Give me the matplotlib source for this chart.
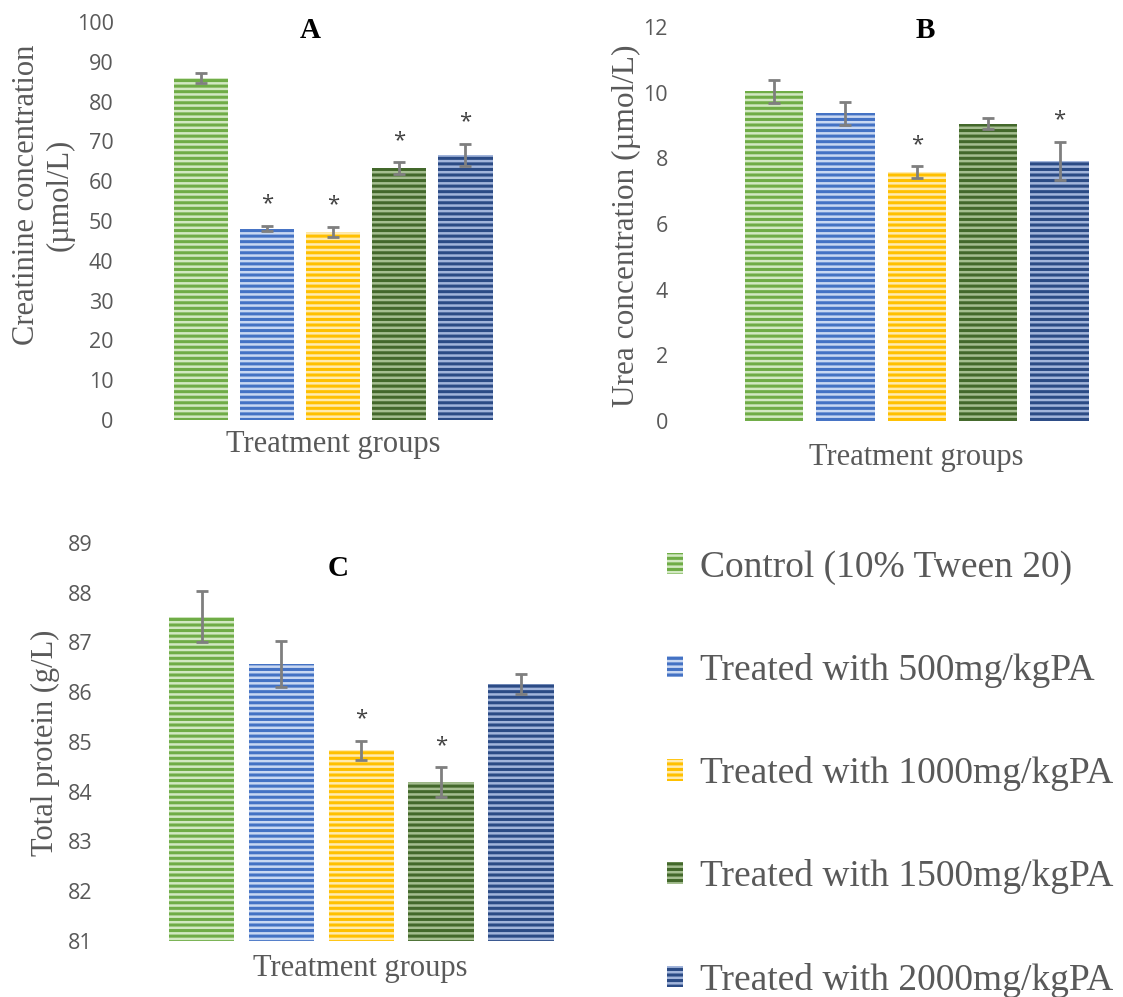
import matplotlib
matplotlib.use("Agg")
import matplotlib.pyplot as plt
from matplotlib.patches import Patch
import numpy as np

# ---------------- data ----------------
groups = ["Control (10% Tween 20)", "Treated with 500mg/kgPA",
          "Treated with 1000mg/kgPA", "Treated with 1500mg/kgPA",
          "Treated with 2000mg/kgPA"]

creatinine = [85.9, 48.1, 47.3, 63.3, 66.6]
creatinine_err = [1.2, 0.7, 1.3, 1.5, 2.8]
creatinine_sig = [False, True, True, True, True]

urea = [10.05, 9.38, 7.58, 9.06, 7.93]
urea_err = [0.35, 0.35, 0.19, 0.18, 0.58]
urea_sig = [False, False, True, False, True]

protein = [87.52, 86.57, 84.83, 84.20, 86.17]
protein_err = [0.52, 0.47, 0.20, 0.30, 0.20]
protein_sig = [False, False, True, True, False]

main_colors = ["#6FAC46", "#4472C4", "#FFC000", "#43682B", "#2B4B85"]
light_colors = ["#D2E8C2", "#C9D8F2", "#FFEBB0", "#A5BE90", "#A2B5DB"]

W, H = 1123, 997
plt.rcParams['hatch.linewidth'] = 2.2
fig = plt.figure(figsize=(W / 100, H / 100), dpi=100)

TICK_FONT = dict(family="Open Sans", size=15.5, color="#595959")
SERIF = "Liberation Serif"


def px_axes(left, right, y_bottom, y_top):
    return fig.add_axes([left / W, (H - y_bottom) / H, (right - left) / W,
                         (y_bottom - y_top) / H])


def draw_panel(ax, vals, errs, sig, ylim, yticks, xlim, pad, star_off):
    x = np.arange(len(vals))
    for i in range(len(vals)):
        ax.bar(x[i], vals[i] - ylim[0], bottom=ylim[0], width=0.82,
               facecolor=light_colors[i], edgecolor=main_colors[i],
               hatch="---", linewidth=0.0, zorder=2)
    ax.errorbar(x, vals, yerr=errs, fmt="none", ecolor="#7F7F7F",
                elinewidth=2, capsize=4.5, capthick=2, zorder=3)
    for i in range(len(vals)):
        if sig[i]:
            ax.annotate("*", (x[i], vals[i] + errs[i]), xytext=(0, star_off),
                        textcoords="offset points", ha="center", va="bottom",
                        fontsize=16, color="#404040", family="Open Sans")
    ax.set_ylim(*ylim)
    ax.set_xlim(*xlim)
    ax.set_yticks(yticks)
    ax.set_yticklabels([str(t) for t in yticks], **TICK_FONT)
    ax.set_xticks([])
    ax.tick_params(axis="y", length=0, pad=pad)
    for s in ax.spines.values():
        s.set_visible(False)
    ax.patch.set_alpha(0)


# Panel A
axA = px_axes(140, 516, 420, 22)
draw_panel(axA, creatinine, creatinine_err, creatinine_sig, (0, 100),
           list(range(0, 101, 10)), ((140 - 201) / 66.1, (516 - 201) / 66.1),
           pad=19, star_off=8)
fig.text(310 / W, 1 - 30 / H, "A", ha="center", va="center",
         family=SERIF, weight="bold", size=21, color="black")
fig.text(43 / W, 1 - 195 / H, "Creatinine concentration\n(µmol/L)",
         ha="center", va="center", rotation=90, family=SERIF, size=22,
         color="#595959", linespacing=1.2)
fig.text(333 / W, 1 - 444 / H, "Treatment groups", ha="center", va="center",
         family=SERIF, size=22, color="#595959")

# Panel B
axB = px_axes(690, 1110, 421, 27)
draw_panel(axB, urea, urea_err, urea_sig, (0, 12), list(range(0, 13, 2)),
           ((690 - 774) / 71.4, (1110 - 774) / 71.4), pad=16, star_off=8)
fig.text(925 / W, 1 - 30 / H, "B", ha="center", va="center",
         family=SERIF, weight="bold", size=21, color="black")
fig.text(626 / W, 1 - 226 / H, "Urea concentration (µmol/L)",
         ha="center", va="center", rotation=90, family=SERIF, size=22.5,
         color="#595959")
fig.text(916 / W, 1 - 457 / H, "Treatment groups", ha="center", va="center",
         family=SERIF, size=22, color="#595959")

# Panel C
axC = px_axes(115, 580, 941, 543)
draw_panel(axC, protein, protein_err, protein_sig, (81, 89),
           list(range(81, 90)), ((115 - 201.5) / 79.9, (580 - 201.5) / 79.9),
           pad=16, star_off=8)
fig.text(338 / W, 1 - 568 / H, "C", ha="center", va="center",
         family=SERIF, weight="bold", size=21, color="black")
fig.text(45 / W, 1 - 743 / H, "Total protein (g/L)",
         ha="center", va="center", rotation=90, family=SERIF, size=22,
         color="#595959")
fig.text(360 / W, 1 - 968 / H, "Treatment groups", ha="center", va="center",
         family=SERIF, size=22, color="#595959")

# Legend
handles = [Patch(facecolor=light_colors[i], edgecolor=main_colors[i],
                 hatch="---", linewidth=0) for i in range(5)]
leg = fig.legend(handles, groups, loc="upper left",
                 bbox_to_anchor=(667 / W, 1 - 550 / H), frameon=False,
                 prop=dict(family=SERIF, size=27), labelcolor="#595959",
                 handlelength=0.42, handleheight=0.5, handletextpad=0.45,
                 labelspacing=1.82, borderpad=0, borderaxespad=0)

fig.savefig("out.png", dpi=100, facecolor="white")
